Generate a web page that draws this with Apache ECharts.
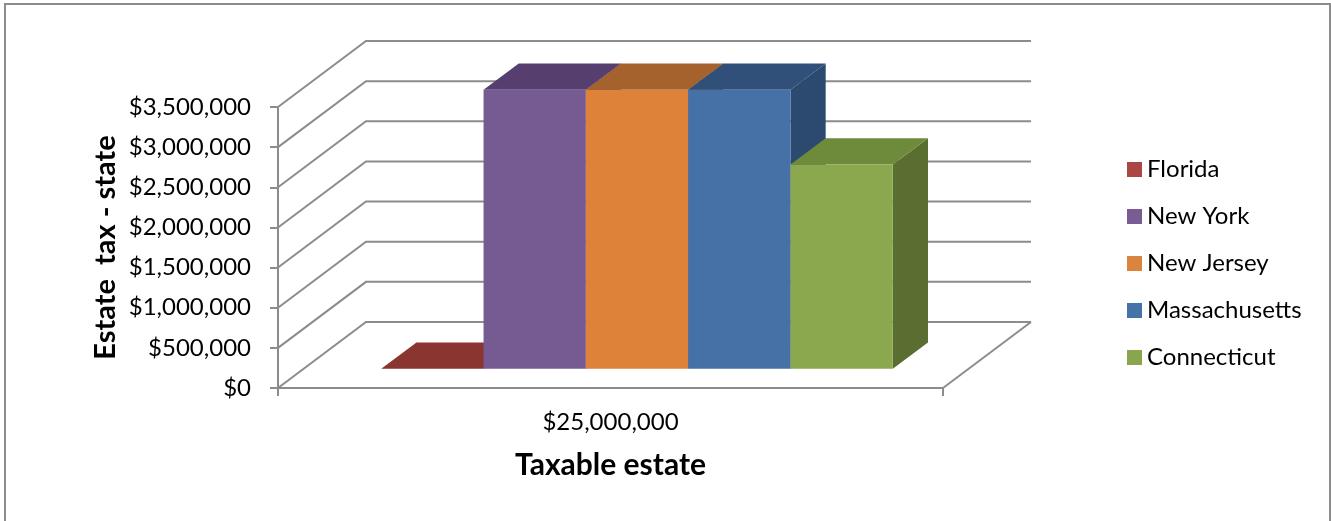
<!DOCTYPE html>
<html>
<head>
<meta charset="utf-8">
<script src="https://cdn.jsdelivr.net/npm/echarts@6/dist/echarts.min.js"></script>
<style>
html,body{margin:0;padding:0;background:#fff;}
#chart{width:1331px;height:521px;}
</style>
</head>
<body>
<div id="chart"></div>
<script>
// ---- data ----
const categories = ['$25,000,000'];
const states = ['Florida', 'New York', 'New Jersey', 'Massachusetts', 'Connecticut'];
const florida = [0];
const newYork = [3476000];
const newJersey = [3476000];
const massachusetts = [3476000];
const connecticut = [2544000];
const yTicks = [0, 500000, 1000000, 1500000, 2000000, 2500000, 3000000, 3500000];

// ---- styles ----
const frontColors = ['#AA4643', '#765A92', '#DE823A', '#4571A6', '#8CA84F'];
const topColors   = ['#8B3530', '#563F6E', '#A6622C', '#30507A', '#6E8A3B'];
const sideColors  = ['#7A2E2A', '#4A365F', '#8F5426', '#2C4A70', '#5B6E31'];
const legendColors = ['#AA4643', '#7A5C95', '#DB843D', '#4572A7', '#89A54E'];
const DX = 88, DY = -66;          // full depth offset of the oblique projection
const DF = 0.29, DB = 0.69;       // bar depth (front / back fraction)
const gridColor = '#8C8C8C';
const FONT = 'Lato, "Open Sans", sans-serif';

const seriesValues = [florida, newYork, newJersey, massachusetts, connecticut];
const N = states.length;

function barRender(idx) {
  return function (params, api) {
    const cs = params.coordSys;
    const v = api.value(1);
    const band = api.size([1, 0])[0];
    const barW = band / (N + 1.5);
    const x0 = cs.x + 0.75 * barW + idx * barW + 1;
    const x1 = x0 + barW;
    const yb = api.coord([0, 0])[1];
    const yt = api.coord([0, v])[1];
    const fx = DX * DF, fy = DY * DF, bx = DX * DB, by = DY * DB;
    const children = [
      { type: 'polygon', shape: { points: [[x1 + fx, yt + fy], [x1 + bx, yt + by], [x1 + bx, yb + by], [x1 + fx, yb + fy]] },
        style: { fill: sideColors[idx], stroke: null } },
      { type: 'polygon', shape: { points: [[x0 + fx, yt + fy], [x1 + fx, yt + fy], [x1 + bx, yt + by], [x0 + bx, yt + by]] },
        style: { fill: topColors[idx], stroke: null } },
      { type: 'rect', shape: { x: x0 + fx, y: yt + fy, width: barW, height: yb - yt },
        style: { fill: frontColors[idx], stroke: null } }
    ];
    return { type: 'group', children: children };
  };
}

function wallRender(params, api) {
  const cs = params.coordSys;
  const v = api.value(1);
  const y = api.coord([0, v])[1];
  const L = cs.x, R = cs.x + cs.width;
  const st = { stroke: gridColor, lineWidth: 2, fill: null };
  const children = [
    { type: 'polyline', shape: { points: [[L, y], [L + DX, y + DY], [R + DX, y + DY]] }, style: st }
  ];
  if (v === 0) {
    children.push({ type: 'line', shape: { x1: R, y1: y, x2: R + DX, y2: y + DY }, style: st });
  }
  return { type: 'group', children: children };
}

const series = [{
  type: 'custom',
  name: '_walls',
  renderItem: wallRender,
  data: yTicks.map(v => [0, v]),
  silent: true,
  z: 1
}];
states.forEach((s, i) => {
  series.push({
    type: 'custom',
    name: s,
    renderItem: barRender(i),
    itemStyle: { color: legendColors[i] },
    data: seriesValues[i].map((v, k) => [k, v]),
    z: 2 + i
  });
});

const chart = echarts.init(document.getElementById('chart'), null, { renderer: 'canvas' });
chart.setOption({
  animation: false,
  backgroundColor: '#fff',
  grid: { left: 278, top: 107, width: 665, bottom: 133 },
  xAxis: {
    type: 'category',
    data: categories,
    boundaryGap: true,
    name: 'Taxable estate',
    nameLocation: 'middle',
    nameGap: 62,
    nameTextStyle: { fontFamily: FONT, fontWeight: 'bold', fontSize: 30, color: '#000' },
    axisLine: { lineStyle: { color: gridColor, width: 2 } },
    axisTick: { show: true, length: 8, lineStyle: { color: gridColor, width: 2 } },
    axisLabel: { margin: 22, fontFamily: FONT, fontSize: 24, color: '#000' }
  },
  yAxis: {
    type: 'value',
    min: 0, max: 3500000, interval: 500000,
    name: 'Estate  tax - state',
    nameLocation: 'middle',
    nameGap: 158,
    nameTextStyle: { fontFamily: FONT, fontWeight: 'bold', fontSize: 29, color: '#000' },
    axisLine: { show: true, lineStyle: { color: gridColor, width: 2 } },
    axisTick: { show: true, length: 8, lineStyle: { color: gridColor, width: 2 } },
    splitLine: { show: false },
    axisLabel: {
      margin: 27, fontFamily: FONT, fontSize: 24, color: '#000',
      formatter: v => '$' + v.toLocaleString('en-US')
    }
  },
  legend: {
    data: states,
    orient: 'vertical',
    left: 1122,
    top: 152,
    icon: 'rect',
    itemWidth: 15,
    itemHeight: 15,
    itemGap: 22,
    textStyle: { fontFamily: FONT, fontSize: 24, color: '#000', lineHeight: 25, padding: [0, 0, 0, 0] },
    selectedMode: false
  },
  graphic: [{
    type: 'rect',
    shape: { x: 5, y: 4, width: 1325, height: 540 },
    style: { fill: null, stroke: '#8C8C8C', lineWidth: 2 },
    silent: true,
    z: 100
  }],
  series: series
});
</script>
</body>
</html>
